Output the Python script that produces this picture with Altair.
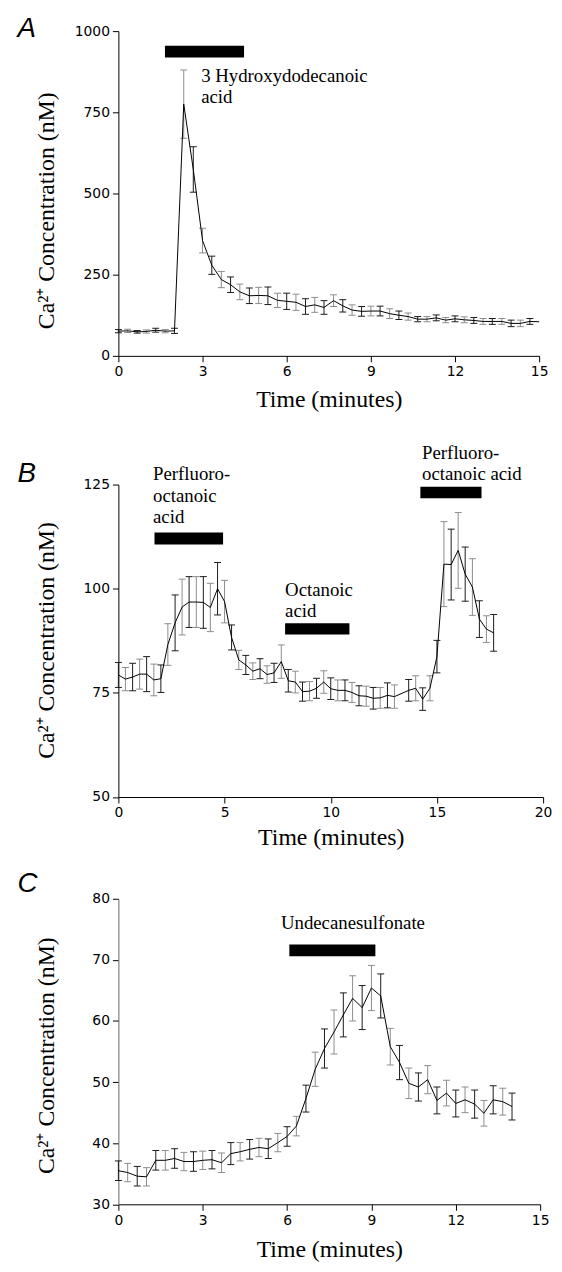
import altair as alt
import pandas as pd

# ---------------- Panel A: 3 Hydroxydodecanoic acid ----------------
A_time = [0, 0.33, 0.67, 1, 1.33, 1.67, 2, 2.33, 2.67, 3, 3.33, 3.67, 4, 4.33, 4.67,
          5, 5.33, 5.67, 6, 6.33, 6.67, 7, 7.33, 7.67, 8, 8.33, 8.67, 9, 9.33, 9.67,
          10, 10.33, 10.67, 11, 11.33, 11.67, 12, 12.33, 12.67, 13, 13.33, 13.67, 14,
          14.33, 14.67, 15]
A_mean = [76, 77, 74, 75, 79, 76, 77, 775, 574, 355, 279, 235, 219, 197, 185,
          186, 185, 171, 168, 165, 152, 157, 149, 170, 154, 141, 137, 138, 138, 130,
          125, 121, 113, 113, 117, 110, 114, 111, 109, 106, 106, 106, 100,
          100, 106, 105]
A_err = [5, 5, 4, 5, 6, 5, 8, 105, 70, 38, 28, 25, 24, 24, 24,
         25, 27, 22, 25, 25, 24, 23, 21, 18, 19, 16, 15, 15, 15, 15,
         13, 11, 8, 8, 9, 8, 9, 9, 9, 9, 9, 9, 10,
         10, 9, 0]
A_xticks = [0, 3, 6, 9, 12, 15]
A_yticks = [0, 250, 500, 750, 1000]
A_bar_start = [1.66]
A_bar_end = [4.48]
A_bar_low = [919]
A_bar_high = [955]
A_note_x = [2.95]
A_note_y = [844]
A_note_text = ["3 Hydroxydodecanoic\nacid"]

# ---------------- Panel B: perfluorooctanoic / octanoic acid ----------------
B_time = [0, 0.33, 0.67, 1, 1.33, 1.67, 2, 2.33, 2.67, 3, 3.33, 3.67, 4, 4.33, 4.67,
          5, 5.33, 5.67, 6, 6.33, 6.67, 7, 7.33, 7.67, 8, 8.33, 8.67, 9, 9.33, 9.67,
          10, 10.33, 10.67, 11, 11.33, 11.67, 12, 12.33, 12.67, 13, 13.67, 14, 14.33,
          14.67, 15, 15.33, 15.67, 16, 16.33, 16.67, 17, 17.33, 17.67]
B_mean = [79.3, 78.3, 78.8, 79.5, 79.5, 78.1, 78.4, 86.6, 91.8, 95.6, 96.8, 96.8, 96.7, 95.5, 100.0,
          96.9, 88.3, 82.9, 81.7, 80.2, 80.8, 79.4, 79.8, 82.5, 77.9, 77.6, 75.3, 75.4, 76.1, 77.6,
          76.0, 75.6, 75.6, 75.1, 74.3, 74.2, 73.7, 73.8, 74.4, 74.1, 75.6, 76.1, 73.5,
          76.1, 83.7, 105.9, 105.8, 109.2, 103.5, 100.4, 92.7, 90.3, 89.4]
B_err = [3.0, 2.8, 3.3, 3.6, 4.2, 3.8, 3.3, 5.0, 6.7, 6.7, 6.1, 6.1, 6.2, 5.8, 6.3,
         5.1, 3.0, 2.3, 2.3, 2.0, 2.4, 2.1, 2.3, 4.0, 2.7, 2.6, 2.3, 2.3, 2.4, 2.7,
         2.6, 2.5, 2.5, 2.4, 2.4, 2.4, 2.6, 2.5, 3.0, 2.8, 2.6, 3.0, 2.7,
         3.0, 3.9, 10.2, 8.5, 9.1, 6.5, 6.8, 4.4, 3.2, 4.4]
B_xticks = [0, 5, 10, 15, 20]
B_yticks = [50, 75, 100, 125]
B_bar_start = [1.70, 7.85, 14.22]
B_bar_end = [4.93, 10.88, 17.10]
B_bar_low = [110.6, 89.0, 121.7]
B_bar_high = [113.5, 91.7, 124.5]
B_note_x = [1.63, 7.85, 14.30]
B_note_y = [126.0, 98.3, 131.2]
B_note_text = ["Perfluoro-\noctanoic\nacid", "Octanoic\nacid", "Perfluoro-\noctanoic acid"]

# ---------------- Panel C: undecanesulfonate ----------------
C_time = [0, 0.33, 0.67, 1, 1.33, 1.67, 2, 2.33, 2.67, 3, 3.33, 3.67, 4, 4.33, 4.67,
          5, 5.33, 5.67, 6, 6.33, 6.67, 7, 7.33, 7.67, 8, 8.33, 8.67, 9, 9.33, 9.67,
          10, 10.33, 10.67, 11, 11.33, 11.67, 12, 12.33, 12.67, 13, 13.33, 13.67, 14]
C_mean = [35.5, 35.2, 34.6, 34.5, 37.2, 37.2, 37.5, 37.0, 37.0, 37.2, 37.3, 36.8, 38.3, 38.6, 39.0,
          39.3, 39.1, 40.1, 41.1, 42.8, 47.3, 52.1, 55.5, 58.2, 61.0, 63.7, 62.2, 65.4, 64.1, 55.8,
          53.2, 49.8, 49.2, 50.4, 47.0, 48.2, 46.5, 47.1, 46.4, 44.9, 47.1, 46.8, 46.0]
C_err = [1.6, 1.5, 1.6, 1.5, 1.6, 1.6, 1.6, 1.5, 1.6, 1.5, 1.5, 1.6, 1.8, 1.5, 1.6,
         1.5, 1.6, 1.5, 1.6, 1.6, 2.2, 2.8, 3.2, 3.6, 3.6, 3.7, 3.6, 3.7, 3.6, 3.0,
         2.8, 2.5, 2.3, 2.3, 2.2, 2.1, 2.2, 2.1, 2.3, 2.1, 2.3, 2.2, 2.2]
C_xticks = [0, 3, 6, 9, 12, 15]
C_yticks = [30, 40, 50, 60, 70, 80]
C_bar_start = [6.08]
C_bar_end = [9.14]
C_bar_low = [70.6]
C_bar_high = [72.5]
C_note_x = [5.78]
C_note_y = [75.0]
C_note_text = ["Undecanesulfonate"]

SERIF = "Liberation Serif"
SANS = "DejaVu Sans"
LETTER_FONT = "Liberation Sans"
X_TITLE = "Time (minutes)"
Y_TITLE = "Ca²⁺ Concentration (nM)"
ERR_SHADES = ["#1a1a1a", "#8c8c8c"]


def make_panel(time, mean, err, xdom, xvals, ydom, yvals, w, h,
               bar_start, bar_end, bar_low, bar_high,
               note_x, note_y, note_text,
               letter, letter_y, xtitle_y, ytitle_y, ydomain_color="black"):
    df = pd.DataFrame({"t": time, "m": mean, "e": err})
    df["lo"] = df["m"] - df["e"]
    df["hi"] = df["m"] + df["e"]
    df["shade"] = ["dark" if i % 2 == 0 else "light" for i in range(len(df))]
    bars = pd.DataFrame({"x0": bar_start, "x1": bar_end, "y0": bar_low, "y1": bar_high})
    notes = pd.DataFrame({"x": note_x, "y": note_y, "label": note_text})

    xs = alt.Scale(domain=xdom, nice=False, zero=False)
    ys = alt.Scale(domain=ydom, nice=False, zero=False)
    xax = alt.Axis(values=xvals, format="d", titleY=xtitle_y, titleBaseline="alphabetic")
    yax = alt.Axis(values=yvals, format="d", titleX=-65.5, titleY=ytitle_y,
                   titleBaseline="alphabetic", domainColor=ydomain_color)
    shade = alt.Color("shade:N", scale=alt.Scale(domain=["dark", "light"], range=ERR_SHADES),
                      legend=None)

    def X(f):
        return alt.X(f, scale=xs, axis=xax, title=X_TITLE)

    def Y(f):
        return alt.Y(f, scale=ys, axis=yax, title=Y_TITLE)

    base = alt.Chart(df)
    errs = base.transform_filter("datum.e > 0")
    rule = errs.mark_rule(strokeWidth=1).encode(
        x=X("t:Q"), y=Y("lo:Q"), y2="hi:Q", color=shade)
    cap_lo = errs.mark_tick(orient="horizontal", size=7, thickness=1, opacity=1).encode(
        x=X("t:Q"), y=Y("lo:Q"), color=shade)
    cap_hi = errs.mark_tick(orient="horizontal", size=7, thickness=1, opacity=1).encode(
        x=X("t:Q"), y=Y("hi:Q"), color=shade)
    line = base.mark_line(color="black", strokeWidth=1).encode(x=X("t:Q"), y=Y("m:Q"))
    bar = alt.Chart(bars).mark_rect(color="black").encode(
        x=X("x0:Q"), x2="x1:Q", y=Y("y0:Q"), y2="y1:Q")
    note = alt.Chart(notes).mark_text(
        align="left", baseline="alphabetic", font=SERIF, fontSize=19,
        lineBreak="\n", lineHeight=21.5, color="black").encode(
        x=X("x:Q"), y=Y("y:Q"), text="label:N")
    let = alt.Chart(alt.Data(values=[{"L": letter}])).mark_text(
        align="left", baseline="alphabetic", font=LETTER_FONT, fontSize=28,
        fontStyle="italic", color="black").encode(
        text="L:N", x=alt.value(-102), y=alt.value(letter_y))
    return alt.layer(rule, cap_lo, cap_hi, line, bar, note, let).properties(width=w, height=h)


panel_a = make_panel(A_time, A_mean, A_err, [0, 15], A_xticks, [0, 1000], A_yticks, 425, 328,
                     A_bar_start, A_bar_end, A_bar_low, A_bar_high,
                     A_note_x, A_note_y, A_note_text,
                     "A", 6.4, 51.5, 181)
panel_b = make_panel(B_time, B_mean, B_err, [0, 20], B_xticks, [50, 125], B_yticks, 429, 315.6,
                     B_bar_start, B_bar_end, B_bar_low, B_bar_high,
                     B_note_x, B_note_y, B_note_text,
                     "B", -2.7, 47.6, 157)
panel_c = make_panel(C_time, C_mean, C_err, [0, 15], C_xticks, [30, 80], C_yticks, 426, 308.6,
                     C_bar_start, C_bar_end, C_bar_low, C_bar_high,
                     C_note_x, C_note_y, C_note_text,
                     "C", -6.7, 52.6, 158, ydomain_color="#666666")

lower = alt.vconcat(panel_b, panel_c, spacing=102.4, bounds="flush")
chart = alt.vconcat(panel_a, lower, spacing=130, bounds="flush").properties(
    padding={"left": 9.5, "top": 1, "right": 2, "bottom": 2}
).configure_view(stroke=None).configure_axis(
    grid=False, domainColor="black", domainWidth=1, tickColor="black", tickSize=6,
    tickWidth=1, labelFont=SANS, labelFontSize=14, labelColor="black", labelPadding=3,
    labelFlush=False, labelOverlap=False, titleFont=SERIF, titleFontSize=24,
    titleFontWeight="normal", titleColor="black"
)

chart.save("out.html", embed_options={"renderer": "svg", "actions": False})
